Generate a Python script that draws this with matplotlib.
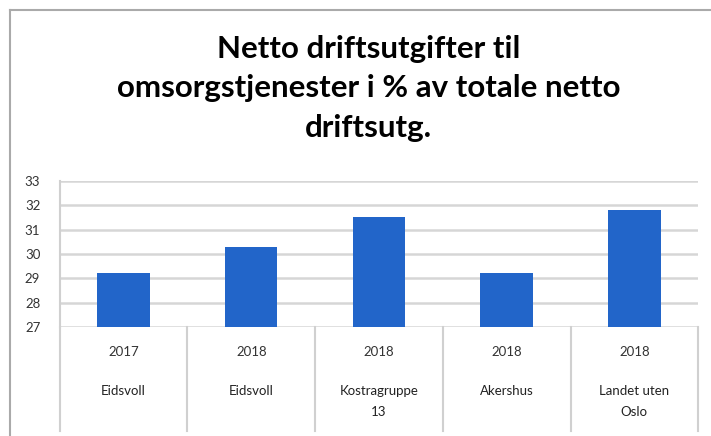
import matplotlib.pyplot as plt
import matplotlib.transforms as mtransforms
from matplotlib.lines import Line2D

# data
years = ['2017', '2018', '2018', '2018', '2018']
names = ['Eidsvoll', 'Eidsvoll', 'Kostragruppe\n13', 'Akershus', 'Landet uten\nOslo']
values = [29.2, 30.3, 31.5, 29.2, 31.8]
yticks = [27, 28, 29, 30, 31, 32, 33]

plt.rcParams['font.family'] = ['Lato', 'DejaVu Sans']

fig = plt.figure(figsize=(7.11, 4.36), dpi=100)
ax = fig.add_axes([0.084, 0.25, 0.898, 0.335])

x = list(range(len(values)))
ax.bar(x, values, width=0.41, color='#2265C9', zorder=3)

ax.set_xlim(-0.5, len(values) - 0.5)
ax.set_ylim(27, 33)
ax.set_yticks(yticks)
ax.set_yticklabels([str(t) for t in yticks], fontsize=9.5, color='#333333')
ax.tick_params(axis='y', length=0, pad=14)
ax.set_xticks([])
ax.grid(axis='y', color='#d6d6d6', linewidth=1.8, zorder=0)
for side in ['top', 'right', 'bottom']:
    ax.spines[side].set_visible(False)
ax.spines['left'].set_color('#d0d0d0')
ax.spines['left'].set_linewidth(1.5)

# multi-level category axis
trans = mtransforms.blended_transform_factory(ax.transData, ax.transAxes)
for b in [i - 0.5 for i in range(len(values) + 1)]:
    ax.plot([b, b], [0, -0.71], transform=trans, color='#d0d0d0', lw=1.5, clip_on=False)
for i in x:
    ax.text(i, -0.17, years[i], transform=trans, ha='center', va='center', fontsize=9.5, color='#333333')
    ax.text(i, -0.395, names[i], transform=trans, ha='center', va='top', fontsize=9.5,
            color='#222222', linespacing=1.9)

fig.text(0.518, 0.798, 'Netto driftsutgifter til\nomsorgstjenester i % av totale netto\ndriftsutg.',
         ha='center', va='center', fontsize=22.5, fontweight='bold', linespacing=1.5)

# outer chart border
fig.add_artist(Line2D([0.014, 0.014], [0.0, 0.977], color='#aaaaaa', lw=1.5))
fig.add_artist(Line2D([0.014, 1.0], [0.977, 0.977], color='#aaaaaa', lw=1.5))

fig.savefig('out.png', dpi=100)
